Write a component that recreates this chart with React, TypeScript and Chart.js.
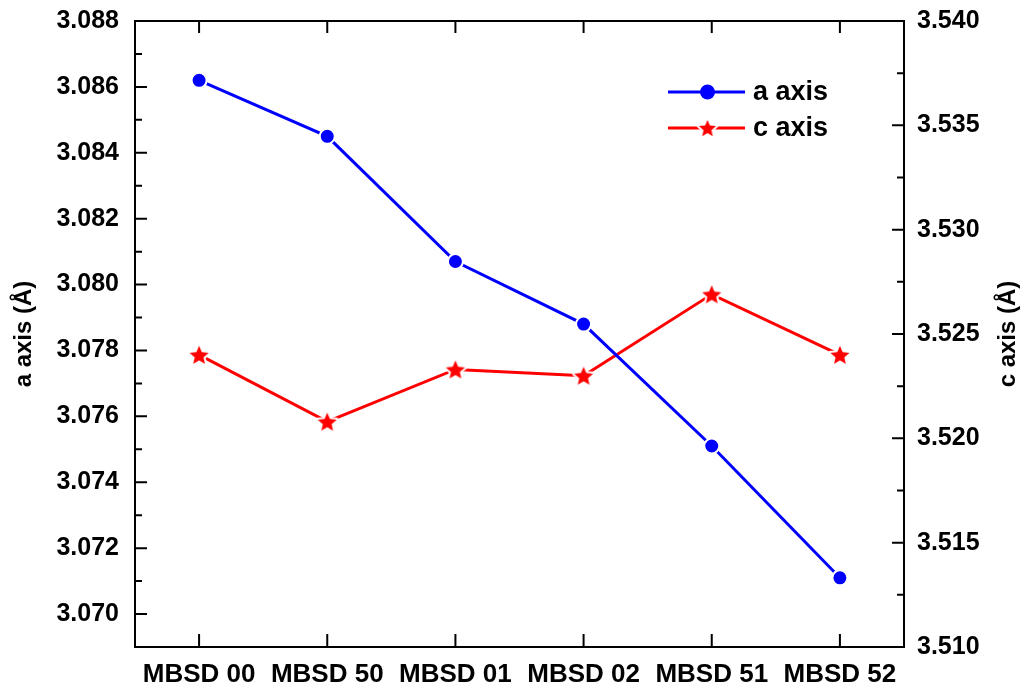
import React, { useEffect, useRef } from "react";
import { Chart, registerables } from "chart.js";

Chart.register(...registerables);

const categories = ["MBSD 00", "MBSD 50", "MBSD 01", "MBSD 02", "MBSD 51", "MBSD 52"];
const aAxisValues = [3.0862, 3.0845, 3.0807, 3.0788, 3.0751, 3.0711];
const cAxisValues = [3.524, 3.5208, 3.5233, 3.523, 3.5269, 3.524];
const leftMajorTicks = [3.07, 3.072, 3.074, 3.076, 3.078, 3.08, 3.082, 3.084, 3.086, 3.088];
const leftMinorTicks = [3.069, 3.071, 3.073, 3.075, 3.077, 3.079, 3.081, 3.083, 3.085, 3.087];
const rightMajorTicks = [3.51, 3.515, 3.52, 3.525, 3.53, 3.535, 3.54];
const rightMinorTicks = [3.5125, 3.5175, 3.5225, 3.5275, 3.5325, 3.5375];
const leftRange = [3.069, 3.088];
const rightRange = [3.51, 3.54];
const seriesLabels = ["a axis", "c axis"];
const axisTitles = ["a axis (Å)", "c axis (Å)"];

const FONT = '"Liberation Sans", Arial, sans-serif';
const BLUE = "#0000ff";
const RED = "#ff0000";

function makeStar(R: number, color: string): HTMLCanvasElement {
  const size = Math.ceil(R * 2 + 6);
  const c = document.createElement("canvas");
  c.width = size;
  c.height = size;
  const ctx = c.getContext("2d")!;
  const cx = size / 2;
  const cy = size / 2 + R * 0.1;
  const r = R * 0.46;
  ctx.beginPath();
  for (let i = 0; i < 10; i++) {
    const ang = -Math.PI / 2 + (i * Math.PI) / 5;
    const rad = i % 2 === 0 ? R : r;
    const x = cx + rad * Math.cos(ang);
    const y = cy + rad * Math.sin(ang);
    if (i === 0) ctx.moveTo(x, y);
    else ctx.lineTo(x, y);
  }
  ctx.closePath();
  ctx.lineJoin = "round";
  ctx.strokeStyle = "#ffffff";
  ctx.lineWidth = 4;
  ctx.stroke();
  ctx.fillStyle = color;
  ctx.fill();
  return c;
}

export default function App() {
  const ref = useRef<HTMLCanvasElement | null>(null);

  useEffect(() => {
    if (!ref.current) return;
    const starImg = makeStar(10, RED);
    const legendStar = makeStar(9, RED);

    const framePlugin = {
      id: "frame",
      afterDraw(chart: any) {
        const { ctx, chartArea } = chart;
        const { left, right, top, bottom } = chartArea;
        const xs = chart.scales.x;
        const yl = chart.scales.y;
        const yr = chart.scales.y1;
        ctx.save();
        ctx.strokeStyle = "#000";
        ctx.lineWidth = 2;
        ctx.lineCap = "butt";
        ctx.strokeRect(left, top, right - left, bottom - top);
        ctx.beginPath();
        categories.forEach((_, i) => {
          const x = xs.getPixelForValue(i);
          ctx.moveTo(x, bottom);
          ctx.lineTo(x, bottom - 13);
          ctx.moveTo(x, top);
          ctx.lineTo(x, top + 12);
        });
        leftMajorTicks.forEach((v) => {
          const y = yl.getPixelForValue(v);
          ctx.moveTo(left, y);
          ctx.lineTo(left + 12, y);
        });
        leftMinorTicks.forEach((v) => {
          const y = yl.getPixelForValue(v);
          ctx.moveTo(left, y);
          ctx.lineTo(left + 7, y);
        });
        rightMajorTicks.forEach((v) => {
          const y = yr.getPixelForValue(v);
          ctx.moveTo(right, y);
          ctx.lineTo(right - 12, y);
        });
        rightMinorTicks.forEach((v) => {
          const y = yr.getPixelForValue(v);
          ctx.moveTo(right, y);
          ctx.lineTo(right - 7, y);
        });
        ctx.stroke();

        // axis titles
        ctx.fillStyle = "#000";
        ctx.font = `bold 24px ${FONT}`;
        ctx.textAlign = "center";
        ctx.textBaseline = "middle";
        const midY = (top + bottom) / 2;
        ctx.save();
        ctx.translate(24, midY);
        ctx.rotate(-Math.PI / 2);
        ctx.fillText(axisTitles[0], 0, 0);
        ctx.restore();
        ctx.save();
        ctx.translate(1008, midY);
        ctx.rotate(-Math.PI / 2);
        ctx.fillText(axisTitles[1], 0, 0);
        ctx.restore();

        // legend
        const lx0 = 668;
        const lx1 = 745;
        const rows = [92, 128];
        ctx.lineWidth = 3;
        ctx.strokeStyle = BLUE;
        ctx.beginPath();
        ctx.moveTo(lx0, rows[0]);
        ctx.lineTo(lx1, rows[0]);
        ctx.stroke();
        ctx.fillStyle = BLUE;
        ctx.beginPath();
        ctx.arc((lx0 + lx1) / 2 + 1, rows[0], 7.5, 0, Math.PI * 2);
        ctx.fill();
        ctx.strokeStyle = RED;
        ctx.beginPath();
        ctx.moveTo(lx0, rows[1]);
        ctx.lineTo(lx1, rows[1]);
        ctx.stroke();
        ctx.drawImage(
          legendStar,
          (lx0 + lx1) / 2 + 1 - legendStar.width / 2,
          rows[1] - legendStar.height / 2
        );
        ctx.fillStyle = "#000";
        ctx.font = `bold 27px ${FONT}`;
        ctx.textAlign = "left";
        ctx.fillText(seriesLabels[0], 753, rows[0] + 1);
        ctx.fillText(seriesLabels[1], 753, rows[1] + 1);
        ctx.restore();
      },
    };

    const chart = new Chart(ref.current, {
      type: "line",
      data: {
        labels: categories,
        datasets: [
          {
            label: seriesLabels[0],
            data: aAxisValues,
            yAxisID: "y",
            borderColor: BLUE,
            backgroundColor: BLUE,
            borderWidth: 3,
            pointStyle: "circle",
            pointRadius: 7.5,
            pointHoverRadius: 7.5,
            pointBackgroundColor: BLUE,
            pointBorderColor: "#ffffff",
            pointBorderWidth: 2,
            pointHoverBorderWidth: 2,
            tension: 0,
          },
          {
            label: seriesLabels[1],
            data: cAxisValues,
            yAxisID: "y1",
            borderColor: RED,
            backgroundColor: RED,
            borderWidth: 3,
            pointStyle: starImg as any,
            pointRadius: 10,
            pointHoverRadius: 10,
            tension: 0,
          },
        ],
      },
      options: {
        animation: false,
        responsive: false,
        events: [],
        layout: { padding: { top: 21, left: 0, right: 0, bottom: 0 } },
        plugins: {
          legend: { display: false },
          tooltip: { enabled: false },
          title: { display: false },
        },
        scales: {
          x: {
            type: "category",
            offset: true,
            grid: { display: false, drawTicks: false },
            border: { display: false },
            ticks: {
              color: "#000",
              font: { family: FONT, size: 26, weight: "bold" },
              padding: 12,
              maxRotation: 0,
              autoSkip: false,
            },
            afterFit: (s: any) => {
              s.height = 41;
              s.paddingLeft = 0;
              s.paddingRight = 0;
            },
          },
          y: {
            type: "linear",
            position: "left",
            min: leftRange[0],
            max: leftRange[1],
            grid: { display: false, drawTicks: false },
            border: { display: false },
            ticks: {
              color: "#000",
              font: { family: FONT, size: 25, weight: "bold" },
              padding: 16,
              callback: (v: any) => Number(v).toFixed(3),
            },
            afterBuildTicks: (s: any) => {
              s.ticks = leftMajorTicks.map((v) => ({ value: v }));
            },
            afterFit: (s: any) => {
              s.width = 135;
              s.paddingTop = 0;
              s.paddingBottom = 0;
            },
          },
          y1: {
            type: "linear",
            position: "right",
            min: rightRange[0],
            max: rightRange[1],
            grid: { display: false, drawTicks: false },
            border: { display: false },
            ticks: {
              color: "#000",
              font: { family: FONT, size: 25, weight: "bold" },
              padding: 13,
              callback: (v: any) => Number(v).toFixed(3),
            },
            afterBuildTicks: (s: any) => {
              s.ticks = rightMajorTicks.map((v) => ({ value: v }));
            },
            afterFit: (s: any) => {
              s.width = 119;
              s.paddingTop = 0;
              s.paddingBottom = 0;
            },
          },
        },
      },
      plugins: [framePlugin],
    });
    return () => chart.destroy();
  }, []);

  return (
    <div
      style={{
        position: "absolute",
        left: 0,
        top: 0,
        width: 1023,
        height: 688,
        background: "#fff",
      }}
    >
      <canvas ref={ref} width={1023} height={688} />
    </div>
  );
}
